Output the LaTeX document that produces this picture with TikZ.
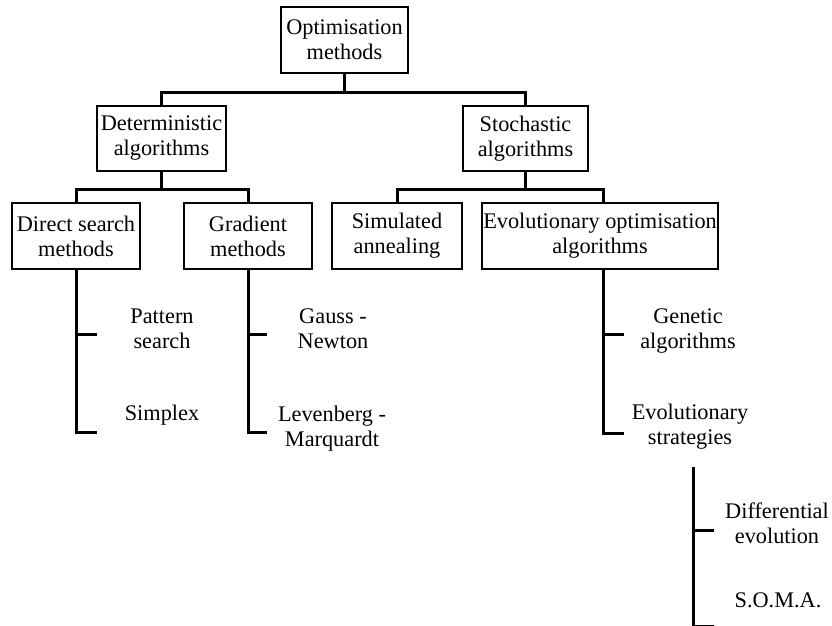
\documentclass[tikz,border=0pt]{standalone}
\usepackage{fontspec}
\setmainfont{Liberation Serif}
\begin{document}
\begin{tikzpicture}[x=1pt,y=-1pt,
  box/.style={draw, line width=1.3pt, inner sep=0pt, align=center, minimum height=66pt,
    font=\fontsize{22.3}{25}\selectfont},
  leaf/.style={inner sep=0pt, align=center, anchor=base, font=\fontsize{22.3}{25}\selectfont},
  conn/.style={line width=3pt, line join=miter}]
\useasboundingbox (0,0) rectangle (832,626);
% boxes
\node[box, minimum width=127pt] (root) at (344.5,40) {Optimisation\\methods};
\node[box, minimum width=129pt, minimum height=65pt] (det) at (161.5,138.5) {Deterministic\\algorithms};
\node[box, minimum width=125pt, minimum height=65pt] (sto) at (525.5,138.5) {Stochastic\\algorithms};
\node[box, minimum width=128pt] (ds) at (76,236) {Direct search\\methods};
\node[box, minimum width=128pt] (gr) at (248,236) {Gradient\\methods};
\node[box, minimum width=130pt] (sa) at (397,236) {Simulated\\annealing};
\node[box, minimum width=236pt] (evo) at (600,236) {Evolutionary optimisation\\algorithms};
% leaves (base = baseline of last line)
\node[leaf] (pat) at (162,348) {Pattern\\search};
\node[leaf] (sim) at (162,420) {Simplex};
\node[leaf] (gau) at (333,348) {Gauss -\\Newton};
\node[leaf] (lev) at (332,446) {Levenberg -\\Marquardt};
\node[leaf] (gen) at (688,348) {Genetic\\algorithms};
\node[leaf] (evs) at (690,444) {Evolutionary\\strategies};
\node[leaf] (dif) at (777,543) {Differential\\evolution};
\node[leaf] (soma) at (778,607) {S.O.M.A.};
% buses
\coordinate (b1) at (0,92);
\coordinate (b2) at (0,189.5);
\draw[conn] (root.south) -- (root.south |- b1);
\draw[conn] (det.north) -- (det.north |- b1) -- (sto.north |- b1) -- (sto.north);
\draw[conn] (det.south) -- (det.south |- b2);
\draw[conn] (ds.north) -- (ds.north |- b2) -- (gr.north |- b2) -- (gr.north);
\draw[conn] (sto.south) -- (sto.south |- b2);
\draw[conn] (sa.north) -- (sa.north |- b2) -- ([xshift=3pt]evo.north |- b2) -- ([xshift=3pt]evo.north);
% leaf ticks
\coordinate (dsT1) at (97,334);
\coordinate (dsT2) at (97,432);
\draw[conn] (ds.south) |- (dsT2);
\draw[conn] (dsT1 -| ds.south) -- (dsT1);
\coordinate (grT1) at (267,334);
\coordinate (grT2) at (267,432);
\draw[conn] (gr.south) |- (grT2);
\draw[conn] (grT1 -| gr.south) -- (grT1);
\coordinate (evS) at ([xshift=3pt]evo.south);
\coordinate (evT1) at (624,334);
\coordinate (evT2) at (624,433);
\draw[conn] (evS) |- (evT2);
\draw[conn] (evT1 -| evS) -- (evT1);
\coordinate (deTop) at (693,467);
\coordinate (deT1) at (714,530);
\coordinate (deT2) at (714,626.5);
\draw[conn] (deTop) |- (deT2);
\draw[conn] (deT1 -| deTop) -- (deT1);
\end{tikzpicture}
\end{document}
